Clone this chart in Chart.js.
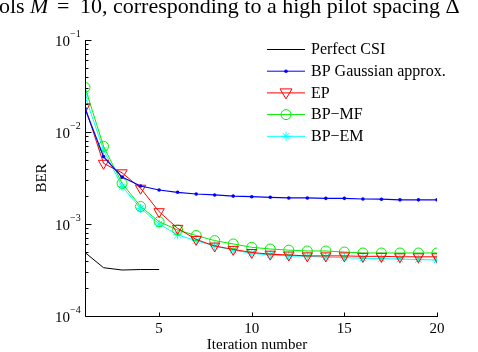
<!DOCTYPE html>
<html>
<head>
<meta charset="utf-8">
<script src="https://cdn.jsdelivr.net/npm/chart.js@4/dist/chart.umd.min.js"></script>
<style>
  html, body { margin: 0; padding: 0; background: #fff; }
  #wrap { position: relative; width: 478px; height: 352px; }
</style>
</head>
<body>
<div id="wrap"><canvas id="myChart" width="478" height="352"></canvas></div>
<script>
// data
const iterations = [1,2,3,4,5,6,7,8,9,10,11,12,13,14,15,16,17,18,19,20];
const perfectIter = [1,2,3,4,5];
const perfectCSI = [4.9e-4, 3.35e-4, 3.16e-4, 3.2e-4, 3.2e-4];
const bpGauss = [0.018, 5.4e-3, 3.24e-3, 2.59e-3, 2.34e-3, 2.21e-3, 2.12e-3, 2.07e-3, 2.01e-3, 1.98e-3,
                 1.95e-3, 1.92e-3, 1.92e-3, 1.9e-3, 1.9e-3, 1.87e-3, 1.86e-3, 1.83e-3, 1.83e-3, 1.83e-3];
const ep = [0.0188, 4.57e-3, 3.6e-3, 2.45e-3, 1.36e-3, 8.97e-4, 6.8e-4, 5.76e-4, 5.3e-4, 4.9e-4,
            4.7e-4, 4.6e-4, 4.5e-4, 4.5e-4, 4.5e-4, 4.45e-4, 4.45e-4, 4.4e-4, 4.4e-4, 4.4e-4];
const bpMF = [0.0306, 7.0e-3, 2.77e-3, 1.55e-3, 1.06e-3, 8.6e-4, 7.5e-4, 6.6e-4, 6.07e-4, 5.58e-4,
              5.35e-4, 5.2e-4, 5.09e-4, 5.09e-4, 4.96e-4, 4.84e-4, 4.84e-4, 4.84e-4, 4.84e-4, 4.84e-4];
const bpEM = [0.0246, 6.37e-3, 2.55e-3, 1.48e-3, 1.0e-3, 7.6e-4, 6.6e-4, 5.76e-4, 5.2e-4, 4.8e-4,
              4.6e-4, 4.5e-4, 4.45e-4, 4.36e-4, 4.3e-4, 4.25e-4, 4.2e-4, 4.16e-4, 4.1e-4, 4.07e-4];
const seriesNames = ['Perfect CSI', 'BP Gaussian approx.', 'EP', 'BP\u2212MF', 'BP\u2212EM'];
const xTicks = [5, 10, 15, 20];
const yDecades = [-4, -3, -2, -1];

function pts(xs, ys) { return ys.map((v, i) => ({x: xs[i], y: v})); }

const serif = '"Liberation Serif", "DejaVu Serif", serif';

// marker for the legend (same look as the points)
function marker(ctx, style, x, y, color) {
  ctx.save();
  ctx.strokeStyle = color; ctx.fillStyle = color; ctx.lineWidth = 1;
  ctx.beginPath();
  if (style === 'dot') {
    ctx.arc(x, y, 1.8, 0, Math.PI * 2); ctx.fill();
  } else if (style === 'tri') {
    ctx.moveTo(x - 6, y - 4); ctx.lineTo(x + 6, y - 4); ctx.lineTo(x, y + 6); ctx.closePath(); ctx.stroke();
  } else if (style === 'circle') {
    ctx.arc(x, y, 5, 0, Math.PI * 2); ctx.stroke();
  } else if (style === 'star') {
    for (let a = 0; a < 4; a++) {
      const t = a * Math.PI / 4;
      ctx.moveTo(x - 4.5 * Math.cos(t), y - 4.5 * Math.sin(t));
      ctx.lineTo(x + 4.5 * Math.cos(t), y + 4.5 * Math.sin(t));
    }
    ctx.stroke();
  }
  ctx.restore();
}

const axesPlugin = {
  id: 'matlabAxes',
  afterDraw(chart) {
    const ctx = chart.ctx;
    const xs = chart.scales.x, ys = chart.scales.y;
    const a = chart.chartArea;
    ctx.save();
    // caption line from the paper above the figure (cut at the top)
    ctx.fillStyle = '#000';
    ctx.textAlign = 'left';
    ctx.textBaseline = 'alphabetic';
    ctx.font = '22px ' + serif;
    ctx.fillText('ols', -1, 13);
    ctx.font = 'italic 22px ' + serif;
    ctx.fillText('M', 30, 13);
    ctx.font = '22px ' + serif;
    ctx.fillText('=', 57, 13);
    ctx.fillText('10, corresponding to a high pilot spacing \u0394', 80, 13);

    // axis lines
    ctx.strokeStyle = '#000';
    ctx.lineWidth = 1;
    const L = Math.round(a.left) + 0.5, B = Math.round(a.bottom) + 0.5;
    ctx.beginPath();
    ctx.moveTo(L, Math.round(a.top)); ctx.lineTo(L, B);
    ctx.lineTo(Math.round(a.right) + 1, B);
    ctx.stroke();

    // y ticks (major + minor), pointing inward
    ctx.beginPath();
    yDecades.forEach(d => {
      const yp = Math.round(ys.getPixelForValue(Math.pow(10, d))) + 0.5;
      ctx.moveTo(L, yp); ctx.lineTo(L + 6, yp);
      if (d < -1) {
        for (let m = 2; m <= 9; m++) {
          const ym = Math.round(ys.getPixelForValue(m * Math.pow(10, d))) + 0.5;
          ctx.moveTo(L, ym); ctx.lineTo(L + 3, ym);
        }
      }
    });
    // x ticks
    xTicks.forEach(t => {
      const xp = Math.round(xs.getPixelForValue(t)) + 0.5;
      ctx.moveTo(xp, B); ctx.lineTo(xp, B - 4);
    });
    ctx.stroke();

    // y tick labels 10^d
    yDecades.forEach(d => {
      const yp = ys.getPixelForValue(Math.pow(10, d));
      ctx.font = '15px ' + serif;
      ctx.textAlign = 'left';
      ctx.textBaseline = 'alphabetic';
      ctx.fillText('10', 55, yp + 6);
      ctx.font = '10px ' + serif;
      ctx.fillText('\u2212' + (-d), 70, yp - 3);
    });
    // x tick labels
    ctx.font = '15px ' + serif;
    ctx.textAlign = 'center';
    ctx.textBaseline = 'alphabetic';
    xTicks.forEach(t => ctx.fillText(String(t), xs.getPixelForValue(t), 333));
    ctx.fillText('Iteration number', 257, 349);
    // y label
    ctx.save();
    ctx.translate(46, (a.top + a.bottom) / 2);
    ctx.rotate(-Math.PI / 2);
    ctx.fillText('BER', 0, 0);
    ctx.restore();

    // legend
    const styles = ['none', 'dot', 'tri', 'circle', 'star'];
    chart.data.datasets.forEach((ds, i) => {
      const ly = 49 + i * 21.7;
      ctx.strokeStyle = ds.borderColor; ctx.lineWidth = 1;
      ctx.beginPath(); ctx.moveTo(267, ly + 0.5); ctx.lineTo(305, ly + 0.5); ctx.stroke();
      if (styles[i] !== 'none') marker(ctx, styles[i], 286, ly + 0.5, ds.borderColor);
      ctx.fillStyle = '#000';
      ctx.font = '16px ' + serif;
      ctx.textAlign = 'left';
      ctx.textBaseline = 'middle';
      ctx.fillText(seriesNames[i], 311, ly + 1);
    });
    ctx.restore();
  }
};

const ctx = document.getElementById('myChart');
new Chart(ctx, {
  type: 'line',
  data: {
    datasets: [
      { label: seriesNames[0], data: pts(perfectIter, perfectCSI), borderColor: '#000', borderWidth: 1,
        pointRadius: 0, tension: 0 },
      { label: seriesNames[1], data: pts(iterations, bpGauss), borderColor: '#0000ff', backgroundColor: '#0000ff',
        borderWidth: 1.2, pointStyle: 'circle', pointRadius: 1.8, pointBorderWidth: 0, tension: 0 },
      { label: seriesNames[2], data: pts(iterations, ep), borderColor: '#ff0000', backgroundColor: 'transparent',
        borderWidth: 1, pointStyle: 'triangle', rotation: 180, pointRadius: 6, pointBorderWidth: 1, tension: 0 },
      { label: seriesNames[3], data: pts(iterations, bpMF), borderColor: '#00ee00', backgroundColor: 'transparent',
        borderWidth: 1, pointStyle: 'circle', pointRadius: 5, pointBorderWidth: 1, tension: 0 },
      { label: seriesNames[4], data: pts(iterations, bpEM), borderColor: '#00ffff', backgroundColor: 'transparent',
        borderWidth: 1, pointStyle: 'star', pointRadius: 4.5, pointBorderWidth: 1, tension: 0 }
    ]
  },
  options: {
    responsive: false,
    animation: false,
    layout: { padding: { left: 85, right: 41, top: 40, bottom: 36 } },
    plugins: { legend: { display: false }, tooltip: { enabled: false } },
    scales: {
      x: { type: 'linear', min: 1, max: 20, display: false },
      y: { type: 'logarithmic', min: 1e-4, max: 1e-1, display: false }
    }
  },
  plugins: [axesPlugin]
});
</script>
</body>
</html>
